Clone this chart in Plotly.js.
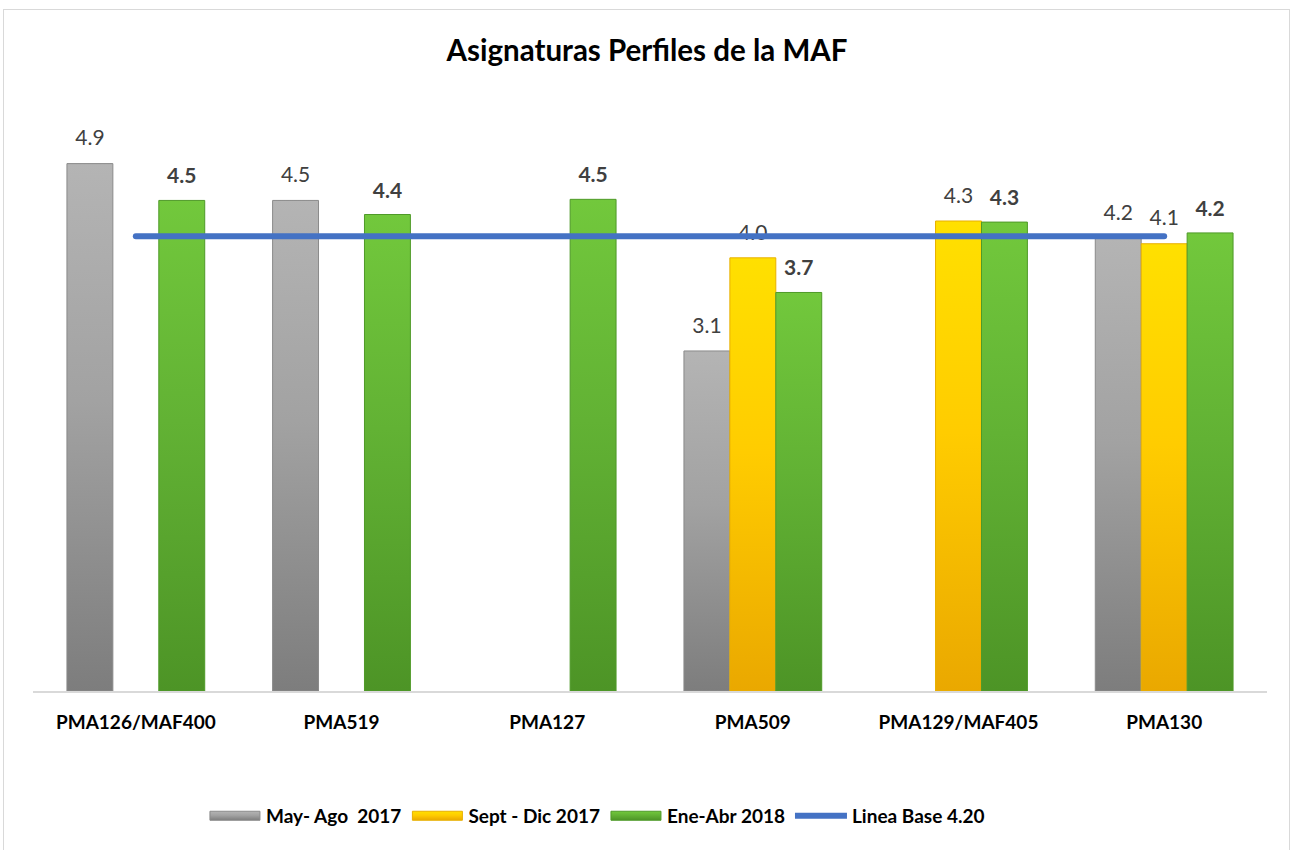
<!DOCTYPE html>
<html>
<head>
<meta charset="utf-8">
<script src="https://cdn.plot.ly/plotly-3.0.1.min.js"></script>
<style>
  html, body { margin:0; padding:0; background:#fff; }
  #frame { position:absolute; left:3px; top:9px; width:1287px; height:850px; border:1px solid #d9d9d9; box-sizing:border-box; }
  #chart { position:absolute; left:4px; top:10px; width:1286px; height:840px; }
</style>
</head>
<body>
<div id="frame"></div>
<div id="chart"></div>
<script>
const categories = ["PMA126/MAF400", "PMA519", "PMA127", "PMA509", "PMA129/MAF405", "PMA130"];
const mayAgo2017 = [4.87, 4.53, null, 3.14, null, 4.18];
const septDic2017 = [null, null, null, 4.00, 4.34, 4.13];
const eneAbr2018 = [4.53, 4.40, 4.54, 3.68, 4.33, 4.23];
const lineaBase = [4.20, 4.20, 4.20, 4.20, 4.20, 4.20];
const seriesNames = ["May- Ago  2017", "Sept - Dic 2017", "Ene-Abr 2018", "Linea Base 4.20"];

const FONT = "Lato, 'Open Sans', sans-serif";
const labelTpl = "<span style='font-size:21px'>%{y:.1f}</span><br><span style='font-size:3px'>&nbsp;</span>";

const traces = [
  {
    type: "bar", name: seriesNames[0], x: categories, y: mayAgo2017,
    marker: { color: "#979797", line: { color: "#8a8a8a", width: 1 } },
    texttemplate: labelTpl, textposition: "outside", cliponaxis: false, constraintext: "none",
    textfont: { family: FONT, size: 11, color: "#404040" }
  },
  {
    type: "bar", name: seriesNames[1], x: categories, y: septDic2017,
    marker: { color: "#F6C200", line: { color: "#e8b000", width: 1 } },
    texttemplate: labelTpl, textposition: "outside", cliponaxis: false, constraintext: "none",
    textfont: { family: FONT, size: 11, color: "#404040" }
  },
  {
    type: "bar", name: seriesNames[2], x: categories, y: eneAbr2018,
    marker: { color: "#5DAD31", line: { color: "#4f9a28", width: 1 } },
    texttemplate: labelTpl, textposition: "outside", cliponaxis: false, constraintext: "none",
    textfont: { family: FONT, size: 10, color: "#404040", weight: "bold" }
  },
  {
    type: "scatter", mode: "lines", name: seriesNames[3], x: categories, y: lineaBase,
    line: { color: "#4472C4", width: 6 }
  }
];

const layout = {
  width: 1286, height: 840,
  margin: { l: 29, r: 23, t: 100, b: 159 },
  paper_bgcolor: "rgba(0,0,0,0)", plot_bgcolor: "rgba(0,0,0,0)",
  title: {
    text: "<b>Asignaturas Perfiles de la MAF</b>",
    font: { family: FONT, size: 29.5, color: "#000" },
    x: 0.5, xref: "container", xanchor: "center",
    y: 0.952, yref: "container", yanchor: "middle"
  },
  barmode: "group", bargap: 0.33, bargroupgap: 0,
  xaxis: {
    type: "category", showline: true, linecolor: "#d9d9d9", linewidth: 2,
    ticks: "outside", ticklen: 13, tickcolor: "rgba(0,0,0,0)",
    tickfont: { family: FONT, size: 19, color: "#000", weight: "bold" },
    showgrid: false, zeroline: false, fixedrange: true
  },
  yaxis: { visible: false, range: [0, 5.365], showgrid: false, zeroline: false, fixedrange: true },
  showlegend: true,
  legend: {
    orientation: "h", x: 0.457, xanchor: "center", y: -0.215, yanchor: "middle",
    font: { family: FONT, size: 19, color: "#000", weight: "bold" },
    traceorder: "normal", tracegroupgap: 0, itemwidth: 52
  }
};

Plotly.newPlot("chart", traces, layout, { displayModeBar: false, staticPlot: true }).then(function (gd) {
  const svg = gd.querySelector("svg.main-svg");
  const NS = "http://www.w3.org/2000/svg";
  let defs = svg.querySelector("defs");
  if (!defs) { defs = document.createElementNS(NS, "defs"); svg.insertBefore(defs, svg.firstChild); }
  const grads = [
    ["#b4b4b4", "#a2a2a2", "#7d7d7d"],
    ["#FFE000", "#FFCC00", "#EAA800"],
    ["#72c83c", "#62b234", "#4d9426"]
  ];
  grads.forEach(function (g, i) {
    const lg = document.createElementNS(NS, "linearGradient");
    lg.setAttribute("id", "bargrad" + i);
    lg.setAttribute("x1", "0"); lg.setAttribute("y1", "0");
    lg.setAttribute("x2", "0"); lg.setAttribute("y2", "1");
    [[0, g[0]], [0.45, g[1]], [1, g[2]]].forEach(function (s) {
      const st = document.createElementNS(NS, "stop");
      st.setAttribute("offset", s[0]);
      st.setAttribute("stop-color", s[1]);
      lg.appendChild(st);
    });
    defs.appendChild(lg);
  });
  gd.querySelectorAll(".barlayer .trace").forEach(function (tr, i) {
    tr.querySelectorAll("path").forEach(function (p) { p.style.fill = "url(#bargrad" + i + ")"; });
  });
  gd.querySelectorAll(".scatterlayer .js-line").forEach(function (p) {
    p.style.strokeLinecap = "round";
  });
  gd.querySelectorAll(".legend .traces").forEach(function (tr, i) {
    if (i < 3) {
      tr.querySelectorAll(".legendpoints path").forEach(function (p) {
        p.setAttribute("d", "M-25,4.5H25V-4.5H-25Z");
        p.style.fill = "url(#bargrad" + i + ")";
      });
    } else {
      tr.querySelectorAll(".legendpoints path").forEach(function (p) { p.style.strokeLinecap = "round"; });
    }
  });
});
</script>
</body>
</html>
